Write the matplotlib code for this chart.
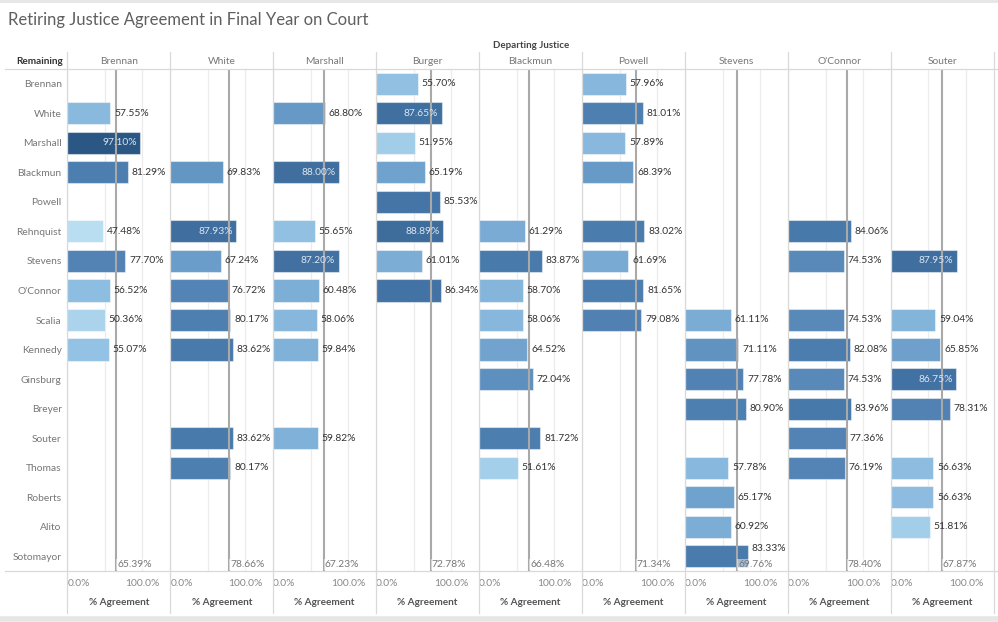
import matplotlib.pyplot as plt
import numpy as np
from matplotlib.colors import LinearSegmentedColormap, Normalize
from matplotlib.lines import Line2D

# --- data -----------------------------------------------------------------
remaining = ["Brennan", "White", "Marshall", "Blackmun", "Powell", "Rehnquist",
             "Stevens", "O'Connor", "Scalia", "Kennedy", "Ginsburg", "Breyer",
             "Souter", "Thomas", "Roberts", "Alito", "Sotomayor"]

departing = ["Brennan", "White", "Marshall", "Burger", "Blackmun", "Powell",
             "Stevens", "O'Connor", "Souter"]

brennan = {"White": 57.55, "Marshall": 97.10, "Blackmun": 81.29, "Rehnquist": 47.48,
           "Stevens": 77.70, "O'Connor": 56.52, "Scalia": 50.36, "Kennedy": 55.07}
white = {"Blackmun": 69.83, "Rehnquist": 87.93, "Stevens": 67.24, "O'Connor": 76.72,
         "Scalia": 80.17, "Kennedy": 83.62, "Souter": 83.62, "Thomas": 80.17}
marshall = {"White": 68.80, "Blackmun": 88.00, "Rehnquist": 55.65, "Stevens": 87.20,
            "O'Connor": 60.48, "Scalia": 58.06, "Kennedy": 59.84, "Souter": 59.82}
burger = {"Brennan": 55.70, "White": 87.65, "Marshall": 51.95, "Blackmun": 65.19,
          "Powell": 85.53, "Rehnquist": 88.89, "Stevens": 61.01, "O'Connor": 86.34}
blackmun = {"Rehnquist": 61.29, "Stevens": 83.87, "O'Connor": 58.70, "Scalia": 58.06,
            "Kennedy": 64.52, "Ginsburg": 72.04, "Souter": 81.72, "Thomas": 51.61}
powell = {"Brennan": 57.96, "White": 81.01, "Marshall": 57.89, "Blackmun": 68.39,
          "Rehnquist": 83.02, "Stevens": 61.69, "O'Connor": 81.65, "Scalia": 79.08}
stevens = {"Scalia": 61.11, "Kennedy": 71.11, "Ginsburg": 77.78, "Breyer": 80.90,
           "Thomas": 57.78, "Roberts": 65.17, "Alito": 60.92, "Sotomayor": 83.33}
oconnor = {"Rehnquist": 84.06, "Stevens": 74.53, "Scalia": 74.53, "Kennedy": 82.08,
           "Ginsburg": 74.53, "Breyer": 83.96, "Souter": 77.36, "Thomas": 76.19}
souter = {"Stevens": 87.95, "Scalia": 59.04, "Kennedy": 65.85, "Ginsburg": 86.75,
          "Breyer": 78.31, "Thomas": 56.63, "Roberts": 56.63, "Alito": 51.81}

panels = [brennan, white, marshall, burger, blackmun, powell, stevens, oconnor, souter]

# average line per departing justice
ref_values = [65.39, 78.66, 67.23, 72.78, 66.48, 71.34, 69.76, 78.40, 67.87]

# --- style ----------------------------------------------------------------
W, H = 998, 622
plt.rcParams['font.family'] = ['Lato', 'DejaVu Sans']

blues = LinearSegmentedColormap.from_list(
    "tab_blue", ["#b9ddf1", "#95c4e5", "#78aad3", "#6699c6",
                 "#5585b6", "#4a7cae", "#3c6a99", "#2a5783"])
all_vals = [v for p in panels for v in p.values()]
norm = Normalize(min(all_vals), max(all_vals))

fig, axes = plt.subplots(1, 9, sharey=True, figsize=(W / 100, H / 100), dpi=100)
plt.subplots_adjust(left=67.3 / W, right=994 / W, top=1 - 69 / H, bottom=1 - 571 / H,
                    wspace=0)

def fx(x):
    return x / W

def fy(y):
    return 1 - y / H

for i, (ax, name, data, ref) in enumerate(zip(axes, departing, panels, ref_values)):
    rows = [remaining.index(k) for k in data]
    vals = list(data.values())
    ax.barh(rows, vals, height=0.75, color=blues(norm(vals)),
            edgecolor=(1, 1, 1, 0.45), linewidth=0.8, zorder=2)
    ax.axvline(ref, color="#a9a9a9", lw=1.5, zorder=3)
    ax.text(ref + 1.5, 16.28, f"{ref:.2f}%", color="#777777", fontsize=7.4,
            va="center", ha="left", zorder=4,
            bbox=dict(facecolor="white", alpha=0.5, edgecolor="none", pad=0.8))
    for r, v, k in zip(rows, vals, data):
        dy = -0.26 if (name == "Stevens" and k == "Sotomayor") else 0
        if v >= 86.5:
            ax.text(v - 4.5, r + dy, f"{v:.2f}%", color="#dbe5f0", fontsize=7.4,
                    va="center", ha="right", zorder=4)
        else:
            ax.text(v + 5, r + dy, f"{v:.2f}%", color="#333333", fontsize=7.4,
                    va="center", ha="left", zorder=4)

    ax.set_xlim(0, 137.5)
    ax.set_ylim(16.5, -0.5)
    ax.set_xticks([0, 100])
    ax.set_xticklabels(["0.0%", "100.0%"])
    ax.get_xticklabels()[0].set_ha("left")
    ax.set_xticks([50], minor=True)
    ax.grid(axis="x", which="both", color="#ececec", lw=0.9, zorder=0)
    ax.tick_params(axis="x", which="both", length=0, labelsize=7.4,
                   labelcolor="#888888", pad=6)
    ax.tick_params(axis="y", length=0, labelsize=7.4, labelcolor="#777777", pad=4)
    ax.set_xlabel("% Agreement", fontsize=7.2, fontweight="bold", color="#555555",
                  labelpad=7)
    for s in ax.spines.values():
        s.set_visible(False)
    ax.text(0.5, 7 / 502 + 1, name, transform=ax.transAxes, ha="center",
            va="center", fontsize=7.4, color="#777777")

axes[0].set_yticks(range(len(remaining)))
axes[0].set_yticklabels(remaining)

# separators of the table
for x in [67.3 + 103 * k for k in range(9)] + [994]:
    fig.add_artist(Line2D([fx(x), fx(x)], [fy(52), fy(613)], color="#d9d9d9", lw=0.9))
for y in (69, 571):
    fig.add_artist(Line2D([fx(5), fx(998)], [fy(y), fy(y)], color="#d9d9d9", lw=0.9))
fig.add_artist(Line2D([0, 1], [fy(1), fy(1)], color="#e6e6e6", lw=2))
fig.add_artist(Line2D([0, 1], [fy(619), fy(619)], color="#e6e6e6", lw=4))

fig.text(fx(8), fy(20), "Retiring Justice Agreement in Final Year on Court",
         fontsize=12, color="#5f5f5f", va="center", ha="left")
fig.text(fx(531), fy(46), "Departing Justice", fontsize=7, fontweight="bold",
         color="#444444", ha="center", va="center")
fig.text(fx(63), fy(62), "Remaining", fontsize=7.2, fontweight="bold",
         color="#333333", ha="right", va="center")

plt.savefig("out.png", dpi=100)
